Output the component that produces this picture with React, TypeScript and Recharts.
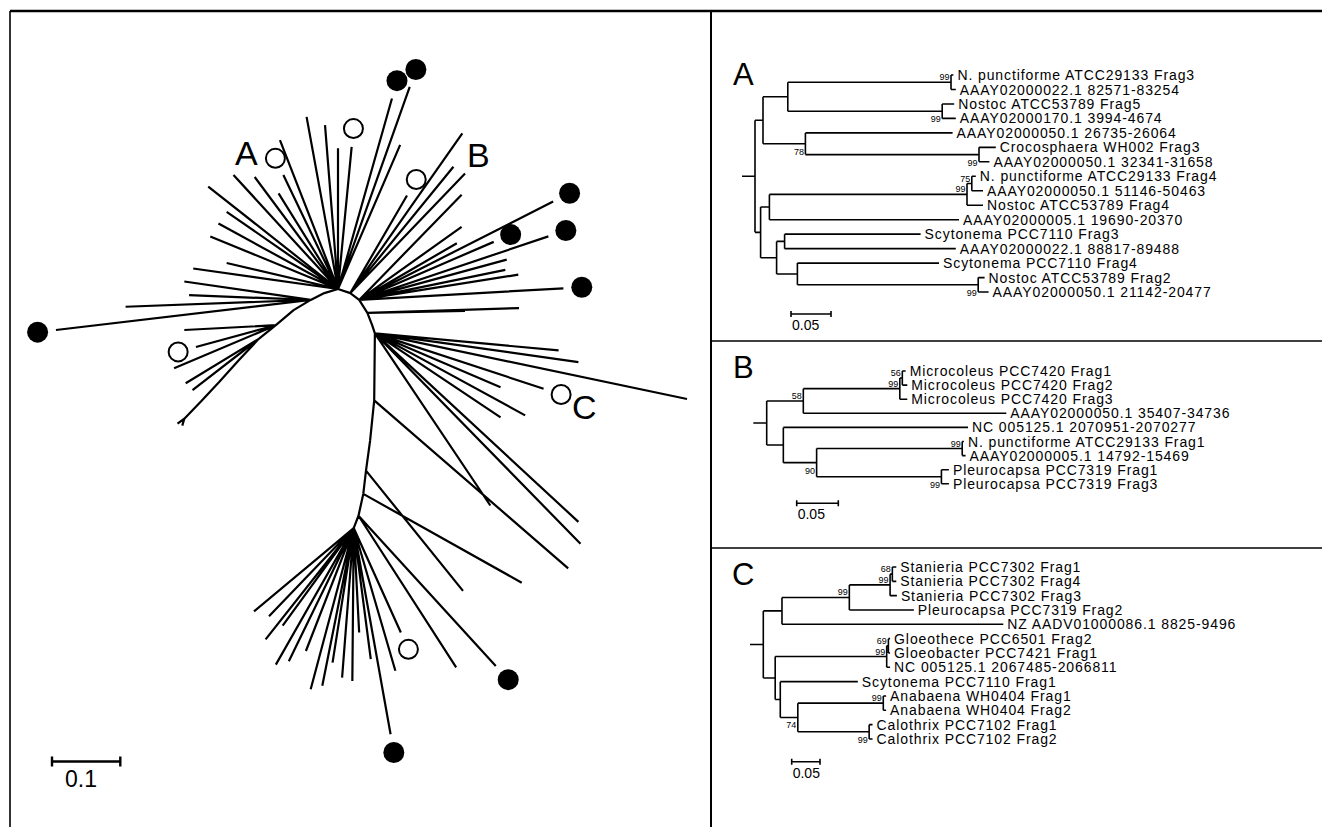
import React from 'react';
import { ComposedChart, Line, Scatter, XAxis, YAxis } from 'recharts';

const FONT = '"Liberation Sans", Arial, Helvetica, sans-serif';
const INK = '#000';

// ---------- panel A ----------
const namesA = [
  'N. punctiforme ATCC29133 Frag3',
  'AAAY02000022.1 82571-83254',
  'Nostoc ATCC53789 Frag5',
  'AAAY02000170.1 3994-4674',
  'AAAY02000050.1 26735-26064',
  'Crocosphaera WH002 Frag3',
  'AAAY02000050.1 32341-31658',
  'N. punctiforme ATCC29133 Frag4',
  'AAAY02000050.1 51146-50463',
  'Nostoc ATCC53789 Frag4',
  'AAAY02000005.1 19690-20370',
  'Scytonema PCC7110 Frag3',
  'AAAY02000022.1 88817-89488',
  'Scytonema PCC7110 Frag4',
  'Nostoc ATCC53789 Frag2',
  'AAAY02000050.1 21142-20477',
];
// leaves are indices into namesA, lengths in substitutions/site
const treeA = `((((0:0.003,1:0.006)99:0.204,(2:0.015,3:0.017)99:0.193):0.031,
  (4:0.184,(5:0.021,6:0.013)99:0.217)78:0.053):0.010,
  ((((7:0.005,8:0.014)75:0.006,9:0.020)99:0.247,10:0.237):0.011,
  ((11:0.170,12:0.214):0.010,(13:0.177,(14:0.008,15:0.013)99:0.226):0.026):0.020):0.007);`;
const bsSideA = ['above', 'below', 'below', 'below', 'above', 'above', 'below'];

// ---------- panel B ----------
const namesB = [
  'Microcoleus PCC7420 Frag1',
  'Microcoleus PCC7420 Frag2',
  'Microcoleus PCC7420 Frag3',
  'AAAY02000050.1 35407-34736',
  'NC 005125.1 2070951-2070277',
  'N. punctiforme ATCC29133 Frag1',
  'AAAY02000005.1 14792-15469',
  'Pleurocapsa PCC7319 Frag1',
  'Pleurocapsa PCC7319 Frag3',
];
const treeB = `((((0:0.004,1:0.006)56:0.003,2:0.009)99:0.116,3:0.244)58:0.044,
  (4:0.222,((5:0.002,6:0.004)99:0.175,(7:0.009,8:0.009)99:0.150)90:0.040):0.020);`;
const bsSideB = ['above', 'above', 'above', 'above', 'below', 'below'];

// ---------- panel C ----------
const namesC = [
  'Stanieria PCC7302 Frag1',
  'Stanieria PCC7302 Frag4',
  'Stanieria PCC7302 Frag3',
  'Pleurocapsa PCC7319 Frag2',
  'NZ AADV01000086.1 8825-9496',
  'Gloeothece PCC6501 Frag2',
  'Gloeobacter PCC7421 Frag1',
  'NC 005125.1 2067485-2066811',
  'Scytonema PCC7110 Frag1',
  'Anabaena WH0404 Frag1',
  'Anabaena WH0404 Frag2',
  'Calothrix PCC7102 Frag1',
  'Calothrix PCC7102 Frag2',
];
const treeC = `(((((0:0.007,1:0.007)68:0.004,2:0.012)99:0.072,3:0.114)99:0.119,4:0.391):0.033,
  (((5:0.003,6:0.003)69:0.003,7:0.006)99:0.197,
  (8:0.137,((9:0.005,10:0.005)99:0.151,(11:0.006,12:0.006)99:0.126)74:0.031):0.009):0.021);`;
const bsSideC = ['above', 'above', 'above', 'above', 'above', 'above', 'below', 'below'];

// ---------- left panel: unrooted tree ----------
// internal nodes: [parent, dx, dy] (substitutions/site, y up)
const leftNodes: [number, number, number][] = [
  [-1, 0, 0],
  [0, 0.018, -0.006],
  [1, 0.013, -0.010],
  [2, 0.012, -0.019],
  [3, 0.007, -0.018],
  [4, 0.004, -0.012],
  [5, -0.001, -0.098],
  [6, -0.006, -0.059],
  [7, -0.006, -0.044],
  [8, -0.004, -0.034],
  [9, -0.007, -0.032],
  [10, -0.007, -0.018],
  [0, -0.020, -0.006],
  [12, -0.020, -0.010],
  [13, -0.025, -0.015],
  [14, -0.026, -0.022],
  [15, -0.025, -0.020],
  [16, -0.029, -0.031],
  [17, -0.029, -0.032],
  [18, -0.026, -0.028],
  [19, -0.025, -0.026],
];
// terminal branches: [node, dx, dy]
const leftTips: [number, number, number][] = [
  [0, -0.046, 0.252], [0, -0.019, 0.240], [0, 0.000, 0.206], [0, 0.020, 0.208],
  [0, 0.079, 0.279], [0, 0.105, 0.296], [0, 0.091, 0.211], [0, -0.085, 0.218],
  [0, -0.080, 0.167], [0, -0.087, 0.140], [0, -0.122, 0.164], [0, -0.153, 0.167],
  [0, -0.190, 0.150], [0, -0.163, 0.113], [0, -0.175, 0.096], [0, -0.187, 0.077],
  [0, -0.163, 0.038], [0, -0.212, 0.030],
  [13, -0.185, 0.027], [13, -0.178, 0.007], [13, -0.271, -0.010], [13, -0.373, -0.044],
  [15, -0.134, -0.007], [15, -0.117, -0.032], [15, -0.149, -0.063],
  [16, -0.107, -0.065], [16, -0.097, -0.075],
  [20, -0.010, -0.007], [20, -0.003, -0.010],
  [1, 0.164, 0.234], [1, 0.151, 0.185], [1, 0.168, 0.175], [1, 0.083, 0.143],
  [2, 0.150, 0.154], [2, 0.150, 0.107], [2, 0.143, 0.083], [2, 0.284, 0.144],
  [2, 0.197, 0.085], [2, 0.277, 0.093], [2, 0.216, 0.059], [2, 0.214, 0.044],
  [2, 0.233, 0.037], [2, 0.299, 0.017],
  [3, 0.222, 0.007], [3, 0.143, 0.003],
  [5, 0.269, -0.025], [5, 0.298, -0.042], [5, 0.457, -0.096], [5, 0.247, -0.081],
  [5, 0.184, -0.079], [5, 0.220, -0.120], [5, 0.184, -0.123], [5, 0.169, -0.252],
  [5, 0.298, -0.276], [5, 0.301, -0.308],
  [6, 0.284, -0.246],
  [8, 0.142, -0.176],
  [9, 0.232, -0.130],
  [10, 0.201, -0.220], [10, 0.143, -0.222],
  [11, 0.069, -0.153], [11, 0.061, -0.209], [11, 0.054, -0.302], [11, 0.025, -0.192],
  [11, 0.008, -0.153], [11, -0.002, -0.224], [11, -0.017, -0.219], [11, -0.031, -0.197],
  [11, -0.046, -0.231], [11, -0.063, -0.236], [11, -0.070, -0.180], [11, -0.095, -0.195],
  [11, -0.114, -0.200], [11, -0.129, -0.163], [11, -0.104, -0.143], [11, -0.124, -0.129],
  [11, -0.146, -0.122],
];
const filledTips = [4, 5, 21, 36, 37, 38, 42, 58, 62];
const openTips = [3, 8, 23, 32, 48, 60];

// ---------- layout constants ----------
const PANELS = [
  { names: namesA, tree: treeA, sides: bsSideA, letter: 'A', box: { left: 712, top: 13, width: 610, height: 327 },
    rootX: 755, stub: 13, row1: 75, step: 14.47, ppu: 800, bar: { x: 791, y: 314 }, letterAt: { x: 733, y: 85 } },
  { names: namesB, tree: treeB, sides: bsSideB, letter: 'B', box: { left: 712, top: 342, width: 610, height: 205 },
    rootX: 766.7, stub: 13.4, row1: 371, step: 14.1, ppu: 832, bar: { x: 796.7, y: 503.3 }, letterAt: { x: 733, y: 378 } },
  { names: namesC, tree: treeC, sides: bsSideC, letter: 'C', box: { left: 712, top: 549, width: 610, height: 278 },
    rootX: 763.3, stub: 13.3, row1: 567, step: 14.33, ppu: 566, bar: { x: 791.7, y: 761.7 }, letterAt: { x: 732, y: 585 } },
];
const LEFT = { box: { left: 11, top: 13, width: 699, height: 814 }, origin: { x: 338, y: 289 }, ppu: 683, bar: { x: 52, y: 761.5 } };
const MARK_GAP = 0.027;

type Pt = { x: number; y: number | null };
type TNode = { label: string; len: number; kids: TNode[]; x: number; y: number };

function parseNewick(src: string): TNode {
  const s = src.replace(/\s+/g, '');
  let i = 0;
  const read = (): TNode => {
    const n: TNode = { label: '', len: 0, kids: [], x: 0, y: 0 };
    if (s[i] === '(') {
      i++;
      n.kids.push(read());
      while (s[i] === ',') { i++; n.kids.push(read()); }
      i++;
    }
    while (i < s.length && !':,);'.includes(s[i])) n.label += s[i++];
    if (s[i] === ':') {
      i++;
      let num = '';
      while (i < s.length && !',);'.includes(s[i])) num += s[i++];
      n.len = parseFloat(num);
    }
    return n;
  };
  return read();
}

function layoutTree(src: string, names: string[], sides: string[], stub: number) {
  const root = parseNewick(src);
  const segs: Pt[] = [];
  const tips: any[] = [];
  const boots: any[] = [];
  let k = 0;
  const seg = (x1: number, y1: number, x2: number, y2: number) => {
    segs.push({ x: x1, y: y1 }, { x: x2, y: y2 }, { x: x2, y: null });
  };
  const walk = (n: TNode, x: number) => {
    n.x = x;
    if (!n.kids.length) {
      const idx = Number(n.label);
      n.y = idx + 1;
      tips.push({ x, y: n.y, name: names[idx] });
      return;
    }
    n.kids.forEach((c) => walk(c, x + c.len));
    const first = n.kids[0];
    const last = n.kids[n.kids.length - 1];
    n.y = (first.y + last.y) / 2;
    seg(x, first.y, x, last.y);
    n.kids.forEach((c) => seg(x, c.y, c.x, c.y));
    if (n.label) boots.push({ x, y: n.y, text: n.label, side: sides[k++] });
  };
  walk(root, 0);
  seg(-stub, root.y, 0, root.y);
  return { segs, tips, boots };
}

const TipLabel = (props: any) => (
  <text x={props.cx + 4} y={props.cy} dy="0.36em" fontSize={14} letterSpacing={0.9} fontFamily={FONT} fill={INK}>
    {props.payload.name}
  </text>
);

// bootstrap value sits left of the node, just above or below the incoming branch
const BootLabel = (props: any) => (
  <text x={props.cx - 1.5} y={props.cy + (props.payload.side === 'above' ? -2 : 11)} textAnchor="end"
    fontSize={9} fontFamily={FONT} fill={INK}>
    {props.payload.text}
  </text>
);

const Marker = (props: any) =>
  props.payload.open ? (
    <circle cx={props.cx} cy={props.cy} r={9.5} fill="#fff" stroke={INK} strokeWidth={2} />
  ) : (
    <circle cx={props.cx} cy={props.cy} r={10.5} fill={INK} />
  );

function Phylogram({ p }: { p: (typeof PANELS)[number] }) {
  const t = layoutTree(p.tree, p.names, p.sides, p.stub / p.ppu);
  const toRow = (py: number) => 1 + (py - p.row1) / p.step;
  const xDom = [(p.box.left - p.rootX) / p.ppu, (p.box.left + p.box.width - p.rootX) / p.ppu];
  const yDom = [toRow(p.box.top), toRow(p.box.top + p.box.height)];
  const bx = (p.bar.x - p.rootX) / p.ppu;
  const by = toRow(p.bar.y);
  const th = 3 / p.step;
  const barSegs: Pt[] = [
    { x: bx, y: by }, { x: bx + 0.05, y: by }, { x: bx, y: null },
    { x: bx, y: by - th }, { x: bx, y: by + th }, { x: bx, y: null },
    { x: bx + 0.05, y: by - th }, { x: bx + 0.05, y: by + th },
  ];
  return (
    <div style={{ position: 'absolute', left: p.box.left, top: p.box.top }}>
      <ComposedChart width={p.box.width} height={p.box.height} margin={{ top: 0, right: 0, bottom: 0, left: 0 }}>
        <XAxis type="number" dataKey="x" domain={xDom} allowDataOverflow hide />
        <YAxis type="number" dataKey="y" domain={yDom} allowDataOverflow reversed hide />
        <Line data={t.segs} dataKey="y" type="linear" stroke={INK} strokeWidth={1.6} dot={false}
          activeDot={false} connectNulls={false} isAnimationActive={false} />
        <Line data={barSegs} dataKey="y" type="linear" stroke={INK} strokeWidth={1.6} dot={false}
          activeDot={false} connectNulls={false} isAnimationActive={false} />
        <Scatter data={t.tips} shape={TipLabel} isAnimationActive={false} />
        <Scatter data={t.boots} shape={BootLabel} isAnimationActive={false} />
      </ComposedChart>
    </div>
  );
}

function RadialTree() {
  const pos: { x: number; y: number }[] = [];
  leftNodes.forEach(([par, dx, dy], i) => {
    pos[i] = par < 0 ? { x: dx, y: dy } : { x: pos[par].x + dx, y: pos[par].y + dy };
  });
  const segs: Pt[] = [];
  const seg = (a: { x: number; y: number }, b: { x: number; y: number }) => {
    segs.push({ x: a.x, y: a.y }, { x: b.x, y: b.y }, { x: b.x, y: null });
  };
  leftNodes.forEach(([par], i) => { if (par >= 0) seg(pos[par], pos[i]); });
  const marks: any[] = [];
  leftTips.forEach(([n, dx, dy], i) => {
    const tip = { x: pos[n].x + dx, y: pos[n].y + dy };
    seg(pos[n], tip);
    const filled = filledTips.includes(i);
    const open = openTips.includes(i);
    if (filled || open) {
      const d = Math.hypot(dx, dy);
      marks.push({ x: tip.x + (MARK_GAP * dx) / d, y: tip.y + (MARK_GAP * dy) / d, open });
    }
  });
  const { box, origin, ppu, bar } = LEFT;
  const xDom = [(box.left - origin.x) / ppu, (box.left + box.width - origin.x) / ppu];
  const yDom = [(origin.y - (box.top + box.height)) / ppu, (origin.y - box.top) / ppu];
  const bx = (bar.x - origin.x) / ppu;
  const by = (origin.y - bar.y) / ppu;
  const th = 5 / ppu;
  const barSegs: Pt[] = [
    { x: bx, y: by }, { x: bx + 0.1, y: by }, { x: bx, y: null },
    { x: bx, y: by - th }, { x: bx, y: by + th }, { x: bx, y: null },
    { x: bx + 0.1, y: by - th }, { x: bx + 0.1, y: by + th },
  ];
  return (
    <div style={{ position: 'absolute', left: box.left, top: box.top }}>
      <ComposedChart width={box.width} height={box.height} margin={{ top: 0, right: 0, bottom: 0, left: 0 }}>
        <XAxis type="number" dataKey="x" domain={xDom} allowDataOverflow hide />
        <YAxis type="number" dataKey="y" domain={yDom} allowDataOverflow hide />
        <Line data={segs} dataKey="y" type="linear" stroke={INK} strokeWidth={2.2} dot={false}
          activeDot={false} connectNulls={false} isAnimationActive={false} />
        <Line data={barSegs} dataKey="y" type="linear" stroke={INK} strokeWidth={2.4} dot={false}
          activeDot={false} connectNulls={false} isAnimationActive={false} />
        <Scatter data={marks} shape={Marker} isAnimationActive={false} />
      </ComposedChart>
    </div>
  );
}

export default function App() {
  return (
    <div style={{ position: 'absolute', left: 0, top: 0, width: 1322, height: 827, background: '#fff', fontFamily: FONT }}>
      <RadialTree />
      {PANELS.map((p) => <Phylogram key={p.letter} p={p} />)}
      <svg width={1322} height={827} style={{ position: 'absolute', left: 0, top: 0, pointerEvents: 'none' }}>
        <g stroke={INK} fill="none">
          <line x1={10} y1={11} x2={1322} y2={11} strokeWidth={2.6} />
          <line x1={10} y1={11} x2={10} y2={827} strokeWidth={1.6} />
          <line x1={711} y1={11} x2={711} y2={827} strokeWidth={2} />
          <line x1={711} y1={341} x2={1322} y2={341} strokeWidth={1.6} />
          <line x1={711} y1={548} x2={1322} y2={548} strokeWidth={1.6} />
        </g>
        <g fill={INK} fontFamily={FONT}>
          <text x={235} y={165} fontSize={34}>A</text>
          <text x={467} y={167} fontSize={34}>B</text>
          <text x={572} y={419} fontSize={34}>C</text>
          <text x={65} y={787} fontSize={23}>0.1</text>
          {PANELS.map((p) => (
            <React.Fragment key={p.letter}>
              <text x={p.letterAt.x} y={p.letterAt.y} fontSize={31}>{p.letter}</text>
              <text x={p.bar.x + 1} y={p.bar.y + 16} fontSize={14}>0.05</text>
            </React.Fragment>
          ))}
        </g>
      </svg>
    </div>
  );
}
